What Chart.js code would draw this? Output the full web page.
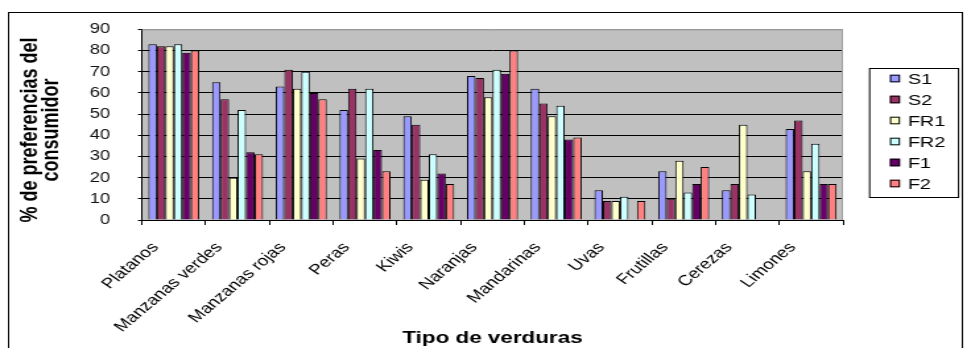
<!DOCTYPE html>
<html>
<head>
<meta charset="utf-8">
<script src="https://cdn.jsdelivr.net/npm/chart.js@4"></script>
<style>
  html, body { margin: 0; padding: 0; background: #fff; overflow: hidden; }
  #wrap { width: 967px; height: 348px; }
  canvas { display: block; }
</style>
</head>
<body>
<div id="wrap">
  <!-- drawn on a narrower canvas and widened by CSS, which gives the broad lettering -->
  <canvas id="c" width="733" height="348" style="width:967px;height:348px"></canvas>
</div>
<script>
// ---- data ----
const categories = ['Platanos', 'Manzanas verdes', 'Manzanas rojas', 'Peras', 'Kiwis',
                    'Naranjas', 'Mandarinas', 'Uvas', 'Frutillas', 'Cerezas', 'Limones'];
const seriesNames = ['S1', 'S2', 'FR1', 'FR2', 'F1', 'F2'];
const s1  = [83, 65, 63, 52, 49, 68, 62, 14, 23, 14, 43];
const s2  = [82, 57, 71, 62, 45, 67, 55,  9, 10, 17, 47];
const fr1 = [82, 20, 62, 29, 19, 58, 49,  9, 28, 45, 23];
const fr2 = [83, 52, 70, 62, 31, 71, 54, 11, 13, 12, 36];
const f1  = [79, 32, 60, 33, 22, 69, 38, null, 17, null, 17];
const f2  = [80, 31, 57, 23, 17, 80, 39,  9, 25, null, 17];
const yTicks = [0, 10, 20, 30, 40, 50, 60, 70, 80, 90];
const yTitleLines = ['% de preferencias del', 'consumidor'];

// ---- styles ----
const seriesColors = ['#9999FF', '#993366', '#FFFFCC', '#CCFFFF', '#660066', '#FF8080'];
const FONT = '"Liberation Sans", Arial, sans-serif';
const seriesValues = [s1, s2, fr1, fr2, f1, f2];

// layout in canvas units
const AREA = { left: 107.6, right: 639, top: 25, bottom: 220 };
const LEGEND = { x: 658.7, y: 68, w: 67.4, h: 129, sq: 7.6, sqX: 674.6, textX: 688.2, firstY: 78.5, step: 21 };
const YTITLE = { x: 23, y: 130, lineGap: 16, size: 18 };

const decorations = {
  id: 'decorations',
  beforeDraw(chart) {
    const { ctx, chartArea: a } = chart;
    ctx.save();
    ctx.fillStyle = '#fff';
    ctx.fillRect(0, 0, chart.width, chart.height);
    // outer frame
    ctx.strokeStyle = '#000';
    ctx.lineWidth = 1;
    ctx.strokeRect(6.5, 12.5, 723, 345);
    // plot area background
    ctx.fillStyle = '#C0C0C0';
    ctx.fillRect(a.left, a.top, a.right - a.left, a.bottom - a.top);
    ctx.restore();
  },
  afterDraw(chart) {
    const { ctx, chartArea: a } = chart;
    ctx.save();
    // plot area top / right edges
    ctx.strokeStyle = '#9a9a9a';
    ctx.lineWidth = 1;
    ctx.beginPath();
    ctx.moveTo(a.left, a.top + 0.5);
    ctx.lineTo(a.right - 0.5, a.top + 0.5);
    ctx.lineTo(a.right - 0.5, a.bottom);
    ctx.stroke();

    // value axis title, two lines, rotated
    ctx.save();
    ctx.translate(YTITLE.x, YTITLE.y);
    ctx.rotate(-Math.PI / 2);
    ctx.font = 'bold ' + YTITLE.size + 'px ' + FONT;
    ctx.fillStyle = '#000';
    ctx.textAlign = 'center';
    ctx.textBaseline = 'middle';
    yTitleLines.forEach((line, i) => ctx.fillText(line, 0, i * YTITLE.lineGap));
    ctx.restore();

    // legend
    ctx.strokeStyle = '#000';
    ctx.strokeRect(LEGEND.x + 0.5, LEGEND.y + 0.5, LEGEND.w, LEGEND.h);
    ctx.font = '15px ' + FONT;
    ctx.textBaseline = 'middle';
    ctx.textAlign = 'left';
    chart.data.datasets.forEach((ds, i) => {
      const cy = LEGEND.firstY + i * LEGEND.step;
      ctx.fillStyle = ds.backgroundColor;
      ctx.fillRect(LEGEND.sqX, cy - LEGEND.sq / 2, LEGEND.sq, LEGEND.sq);
      ctx.strokeStyle = '#000';
      ctx.strokeRect(LEGEND.sqX + 0.5, cy - LEGEND.sq / 2 + 0.5, LEGEND.sq - 1, LEGEND.sq - 1);
      ctx.fillStyle = '#000';
      ctx.fillText(ds.label, LEGEND.textX, cy + 1);
    });
    ctx.restore();
  }
};

new Chart(document.getElementById('c'), {
  type: 'bar',
  data: {
    labels: categories,
    datasets: seriesNames.map((name, i) => ({
      label: name,
      data: seriesValues[i],
      backgroundColor: seriesColors[i],
      borderColor: '#000',
      borderWidth: 1,
      categoryPercentage: 0.8,
      barPercentage: 1.0
    }))
  },
  options: {
    responsive: false,
    animation: false,
    devicePixelRatio: 1,
    layout: { padding: { top: AREA.top, right: 733 - AREA.right, left: 0, bottom: 0 } },
    plugins: {
      legend: { display: false },
      tooltip: { enabled: false }
    },
    scales: {
      x: {
        type: 'category',
        offset: true,
        grid: { display: true, drawOnChartArea: false, drawTicks: true, tickLength: 5, tickColor: '#000', offset: true },
        border: { display: true, color: '#000', width: 1 },
        ticks: {
          autoSkip: false, minRotation: 48, maxRotation: 48,
          padding: 14, labelOffset: -14,
          color: '#000', font: { family: FONT, size: 14.5 }
        },
        title: {
          display: true, text: 'Tipo de verduras', color: '#000',
          font: { family: FONT, size: 17, weight: 'bold', lineHeight: 1 },
          padding: { top: 0, bottom: 1 }
        },
        afterFit(scale) { scale.height = 348 - AREA.bottom; }
      },
      y: {
        min: 0, max: 90,
        afterBuildTicks(scale) { scale.ticks = yTicks.map(v => ({ value: v })); },
        grid: {
          color: (c) => (c.tick && c.tick.value === 90 ? '#9a9a9a' : '#000'),
          tickColor: '#000', tickLength: 3, drawTicks: true, lineWidth: 1
        },
        border: { display: true, color: '#000', width: 1 },
        ticks: { padding: 21, color: '#111', font: { family: FONT, size: 14 } },
        title: { display: false },
        afterFit(scale) { scale.width = AREA.left; }
      }
    }
  },
  plugins: [decorations]
});
</script>
</body>
</html>
